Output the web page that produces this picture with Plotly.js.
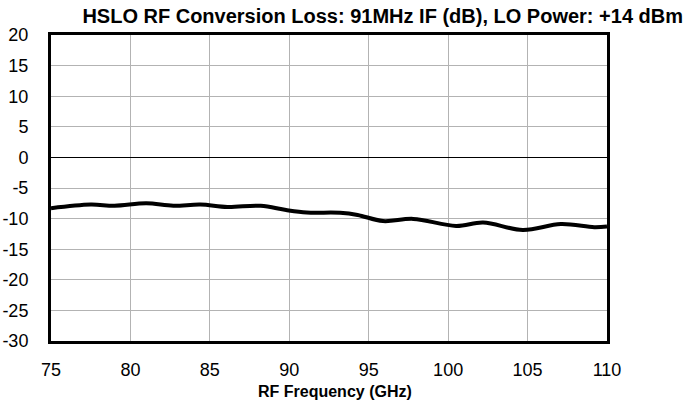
<!DOCTYPE html>
<html>
<head>
<meta charset="utf-8">
<script src="https://cdn.plot.ly/plotly-3.0.1.min.js"></script>
<style>html,body{margin:0;padding:0;background:#fff;}#chart{width:685px;height:405px;}</style>
</head>
<body>
<div id="chart"></div>
<script>
var freqGHz = [75, 77.5, 79, 81, 82.7, 84.4, 86.1, 88.2, 89.8, 91.1, 93.2, 94.3, 95.9, 97.8, 100.5, 102.2, 104.7, 107.1, 109.2, 110];
var lossDb  = [-8.3, -7.7, -7.9, -7.5, -7.9, -7.7, -8.1, -7.9, -8.6, -9.0, -9.05, -9.4, -10.4, -10.05, -11.2, -10.65, -11.85, -10.9, -11.4, -11.3];
var xTicks = [75, 80, 85, 90, 95, 100, 105, 110];
var yTicks = [-30, -25, -20, -15, -10, -5, 0, 5, 10, 15, 20];
var titleText = 'HSLO RF Conversion Loss: 91MHz IF (dB), LO Power: +14 dBm';
var xTitleText = 'RF Frequency (GHz)';

var font = "Liberation Sans, Arial, Helvetica, sans-serif";
var trace = {
  x: freqGHz, y: lossDb, type: 'scatter', mode: 'lines',
  line: {color: '#000', width: 4, shape: 'spline', smoothing: 1},
  hoverinfo: 'skip', showlegend: false
};
var layout = {
  width: 685, height: 405,
  margin: {l: 51, r: 78, t: 35, b: 64, pad: 0},
  paper_bgcolor: '#fff', plot_bgcolor: '#fff',
  font: {family: font, size: 18, color: '#000'},
  title: {
    text: '<b>' + titleText + '</b>',
    font: {family: font, size: 20, color: '#000'},
    x: 683/685, xref: 'container', xanchor: 'right',
    y: 1 - 16/405, yref: 'container', yanchor: 'middle'
  },
  xaxis: {
    range: [75, 110], tickvals: xTicks, ticktext: xTicks.map(String),
    showgrid: true, gridcolor: '#b3b3b3', gridwidth: 1,
    showline: true, linecolor: '#000', linewidth: 3, mirror: true,
    ticks: '', zeroline: false, ticklabelstandoff: 10,
    tickfont: {family: font, size: 18, color: '#000'}
  },
  yaxis: {
    range: [-30, 20], tickvals: yTicks, ticktext: yTicks.map(String),
    showgrid: true, gridcolor: '#b3b3b3', gridwidth: 1,
    showline: true, linecolor: '#000', linewidth: 3, mirror: true,
    ticks: '', zeroline: true, zerolinecolor: '#000', zerolinewidth: 1,
    ticklabelstandoff: 16,
    tickfont: {family: font, size: 18, color: '#000'}
  },
  annotations: [{
    text: '<b>' + xTitleText + '</b>', showarrow: false,
    xref: 'paper', yref: 'paper', x: (335 - 51) / 556, y: -50 / 306,
    xanchor: 'center', yanchor: 'middle',
    font: {family: font, size: 16, color: '#000'}
  }]
};
Plotly.newPlot('chart', [trace], layout, {staticPlot: true, displayModeBar: false});
</script>
</body>
</html>
